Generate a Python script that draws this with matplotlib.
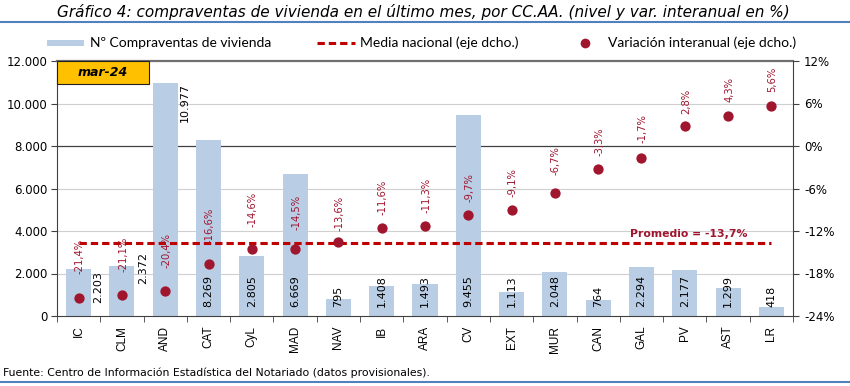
import matplotlib
matplotlib.use("Agg")
import matplotlib.pyplot as plt
from matplotlib.lines import Line2D
from matplotlib.patches import Rectangle
import numpy as np

categories = ["IC", "CLM", "AND", "CAT", "CyL", "MAD", "NAV", "IB", "ARA", "CV",
              "EXT", "MUR", "CAN", "GAL", "PV", "AST", "LR"]
compraventas = [2203, 2372, 10977, 8269, 2805, 6669, 795, 1408, 1493, 9455,
                1113, 2048, 764, 2294, 2177, 1299, 418]
variacion = [-21.4, -21.1, -20.4, -16.6, -14.6, -14.5, -13.6, -11.6, -11.3, -9.7,
             -9.1, -6.7, -3.3, -1.7, 2.8, 4.3, 5.6]
media_nacional = -13.7
periodo = "mar-24"
legend_labels = ["Nº Compraventas de vivienda", "Media nacional (eje dcho.)",
                 "Variación interanual (eje dcho.)"]
titulo = ("Gráfico 4: compraventas de vivienda en el último mes, por CC.AA. "
          "(nivel y var. interanual en %)")
fuente = "Fuente: Centro de Información Estadística del Notariado (datos provisionales)."

BAR = "#B9CDE5"
DOT = "#A0162F"
LINE = "#C00000"
LBL = "#A0162F"
DASH = (0, (2.4, 1.3))

W, H = 850, 386


def fx(px):
    return px / W


def fy(py):
    return 1 - py / H


fig = plt.figure(figsize=(8.5, 3.86), dpi=100)
ax = fig.add_axes([fx(57), fy(316), (793 - 57) / W, (316 - 61) / H])
ax2 = ax.twinx()
ax.set_zorder(ax2.get_zorder() - 1)
ax2.patch.set_visible(False)

x = np.arange(len(categories))
ax.bar(x, compraventas, width=0.58, color=BAR, zorder=2)
ax.set_xlim(-0.5, len(categories) - 0.5)
ax.set_ylim(0, 12000)
yt = list(range(0, 12001, 2000))
ax.set_yticks(yt)
ax.set_yticklabels([f"{v:,}".replace(",", ".") for v in yt],
                   fontsize=8.5, family="DejaVu Sans")
ax.set_xticks(x)
ax.set_xticklabels(categories, rotation=90, fontsize=8.5, family="Liberation Sans")
ax.tick_params(axis="x", length=0, pad=7)
ax.set_xticks(np.arange(-0.5, len(categories), 1), minor=True)
ax.tick_params(axis="x", which="minor", length=4, direction="out", color="#404040")
ax.tick_params(axis="y", length=4, direction="out", color="#404040", pad=3)

for yv in yt[1:-1]:
    if yv == 8000:
        ax.axhline(yv, color="#404040", lw=0.9, zorder=1)
    else:
        ax.axhline(yv, color="#CFCFCF", lw=0.8, zorder=1)

ax.spines["top"].set_color("#707070")
ax.spines["top"].set_linewidth(1.6)
ax.spines["left"].set_color("#404040")
ax.spines["bottom"].set_color("#404040")
ax.spines["right"].set_visible(False)
for s in ["top", "left", "bottom"]:
    ax2.spines[s].set_visible(False)
ax2.spines["right"].set_color("#404040")

# bar value labels
side_pos = {0: (0.45, 1365, "center"), 1: (0.49, 2260, "center"),
            2: (0.46, None, "top")}
for i, v in enumerate(compraventas):
    txt = f"{v:,}".replace(",", ".")
    if i in side_pos:
        dx, ypos, va = side_pos[i]
        ax.text(i + dx, v if ypos is None else ypos, txt, rotation=90,
                ha="center", va=va, fontsize=8, family="DejaVu Sans", zorder=5)
    else:
        ax.text(i, 420, txt, rotation=90, ha="center", va="bottom",
                fontsize=8, family="DejaVu Sans", zorder=5)

# right axis
ax2.set_ylim(-24, 12)
rt = list(range(-24, 13, 6))
ax2.set_yticks(rt)
ax2.set_yticklabels([f"{v}%" for v in rt], fontsize=8.5, family="DejaVu Sans")
ax2.tick_params(axis="y", length=4, direction="out", color="#404040", pad=4)

ax2.plot([x[0], x[-1]], [media_nacional, media_nacional], ls=DASH,
         color=LINE, lw=2.2, zorder=3)
ax2.scatter(x, variacion, s=55, color=DOT, zorder=4, linewidths=0)
offsets = [17, 17, 16.5, 14.5, 16, 13.5, 8.5, 9.5, 9.5, 9.5, 10, 13, 9.5,
           10.5, 8.5, 10, 10]
for i, v in enumerate(variacion):
    txt = f"{v:.1f}".replace(".", ",") + "%"
    ax2.annotate(txt, (i, v), xytext=(0.8, offsets[i]), textcoords="offset points",
                 rotation=90, ha="center", va="bottom", fontsize=7.2,
                 color=LBL, family="DejaVu Sans", zorder=5)

ax2.text(14.1, media_nacional + 0.55, f"Promedio = {media_nacional:.1f}%".replace(".", ","),
         ha="center", va="bottom", fontsize=7.8, fontweight="bold", color=LBL,
         family="DejaVu Sans", zorder=5)

# period box
fig.add_artist(Rectangle((fx(57), fy(84)), (149 - 57) / W, (84 - 61) / H,
                         transform=fig.transFigure, facecolor="#FFC000",
                         edgecolor="#202020", lw=0.8, zorder=10))
fig.text(fx(103), fy(72.5), periodo, ha="center", va="center", fontsize=9,
         fontweight="bold", fontstyle="italic", family="DejaVu Sans", zorder=11)

# manual legend
ly = 43
fig.add_artist(Rectangle((fx(47), fy(ly + 3)), 37 / W, 6 / H,
                         transform=fig.transFigure, facecolor=BAR, edgecolor="none"))
fig.text(fx(90), fy(ly), legend_labels[0], ha="left", va="center",
         fontsize=10, family="Lato")
fig.add_artist(Line2D([fx(317), fx(355)], [fy(ly), fy(ly)], color=LINE, lw=2.2,
                      ls=DASH, transform=fig.transFigure))
fig.text(fx(360), fy(ly), legend_labels[1], ha="left", va="center",
         fontsize=10, family="Lato")
fig.add_artist(Line2D([fx(585)], [fy(ly)], color=DOT, marker="o", ls="none",
                      markersize=7, markeredgewidth=0, transform=fig.transFigure))
fig.text(fx(608), fy(ly), legend_labels[2], ha="left", va="center",
         fontsize=10, family="Lato")

# title and decorations
fig.text(fx(423), fy(12.5), titulo, ha="center", va="center", fontsize=11,
         fontstyle="italic", family="DejaVu Sans")
fig.add_artist(Line2D([0, 1], [fy(22), fy(22)], color="#4F81BD", lw=1.5,
                      transform=fig.transFigure))
fig.add_artist(Line2D([0, 1], [fy(382), fy(382)], color="#4F81BD", lw=1.5,
                      transform=fig.transFigure))
fig.text(fx(3), fy(373), fuente, ha="left", va="center", fontsize=7.8,
         family="DejaVu Sans")

fig.savefig("out.png", dpi=100)
